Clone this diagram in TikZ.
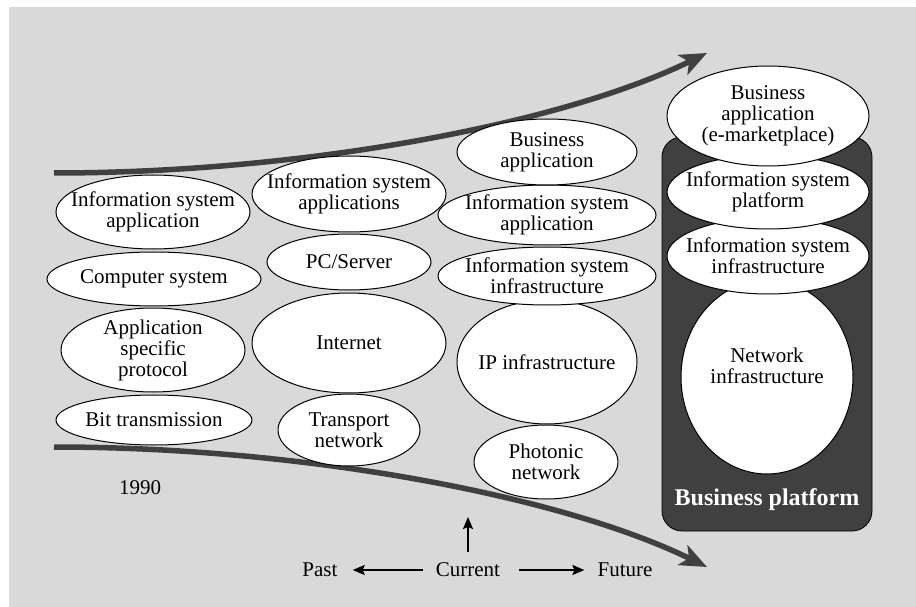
\documentclass[tikz,border=0pt]{standalone}
\usepackage{fontspec}
\setmainfont{Liberation Serif}
\usetikzlibrary{shapes.geometric,arrows.meta}
\definecolor{bg}{HTML}{D9D9D9}
\definecolor{dk}{HTML}{404040}
\tikzset{
 ell/.style={ellipse, draw=black, line width=1pt, fill=white, inner sep=0pt},
 lbl/.style={align=center, font=\fontsize{21}{21}\selectfont, inner sep=0pt},
 bigarrow/.style={draw=dk, line width=5.5pt, -{Stealth[length=27pt,width=22pt,inset=7pt]}},
 thinarrow/.style={draw=black, line width=1.8pt, -{Stealth[length=12pt,width=10pt,inset=2pt]}},
 platformbox/.style={draw=black, line width=0.8pt, fill=dk, rounded corners=20pt, inner sep=0pt},
 platformtext/.style={font=\bfseries\fontsize{24}{24}\selectfont, text=white, inner sep=0pt}
}
\newcommand\myell[6]{%
 \node[ell, minimum width=#4pt, minimum height=#5pt] (#1) at (#2,#3) {};
 \node[lbl] (#1t) at (#1) {#6};}
\begin{document}
\begin{tikzpicture}[x=1pt,y=-1pt]
\useasboundingbox (0,0) rectangle (916,607);
\fill[bg] (9,7) rectangle (916,607);
% big arrows
\coordinate (ts) at (54,173); \coordinate (te) at (707,53);
\draw[bigarrow] (ts) .. controls (300,173) and (560,125) .. (te);
\coordinate (bs) at (54,447); \coordinate (be) at (707,567);
\draw[bigarrow] (bs) .. controls (300,447) and (560,495) .. (be);
% column 1
\myell{bt}{154}{420}{196}{50}{Bit transmission}
\myell{asp}{153}{350}{184}{84}{Application\\specific\\protocol}
\myell{cs}{154}{279}{214}{54}{Computer system}
\myell{isaone}{153}{212}{194}{74}{Information system\\application}
% column 2
\myell{tn}{349}{430}{142}{72}{Transport\\network}
\myell{inet}{349}{343}{194}{100}{Internet}
\myell{pcs}{349}{262}{164}{56}{PC/Server}
\myell{isatwo}{349}{194}{194}{76}{Information system\\applications}
% column 3
\myell{pn}{546}{462}{144}{74}{Photonic\\network}
\myell{ipi}{547}{362}{180}{124}{IP infrastructure}
\myell{isithree}{547}{276}{218}{58}{Information system\\infrastructure}
\myell{isathree}{547}{215}{218}{60}{Information system\\application}
\myell{bathree}{547}{152}{180}{66}{Business\\application}
% column 4
\node[platformbox, minimum width=210pt, minimum height=394pt] (bp) at (767,334) {};
\node[platformtext] (bpt) at (767,500) {Business platform};
\node[ell, minimum width=172pt, minimum height=194pt] (ni) at (767,377) {};
\node[lbl] (nit) at (767,366) {Network\\infrastructure};
\myell{isifour}{768}{256}{202}{76}{Information system\\infrastructure}
\myell{isp}{768}{192}{202}{74}{Information system\\platform}
\myell{bafour}{768}{116}{202}{100}{Business\\application\\(e-marketplace)}
% bottom labels
\node[lbl] (yr) at (140,488) {1990};
\node[lbl] (past) at (320,570) {Past};
\node[lbl] (cur) at (468,570) {Current};
\node[lbl] (fut) at (625,570) {Future};
\coordinate (up) at (468,517);
\draw[thinarrow, shorten <=13pt, shorten >=15pt] (cur.west) -- (past.east);
\draw[thinarrow, shorten <=19pt, shorten >=13pt] (cur.east) -- (fut.west);
\draw[thinarrow, shorten <=11pt] (cur.north) -- (up);
\end{tikzpicture}
\end{document}
